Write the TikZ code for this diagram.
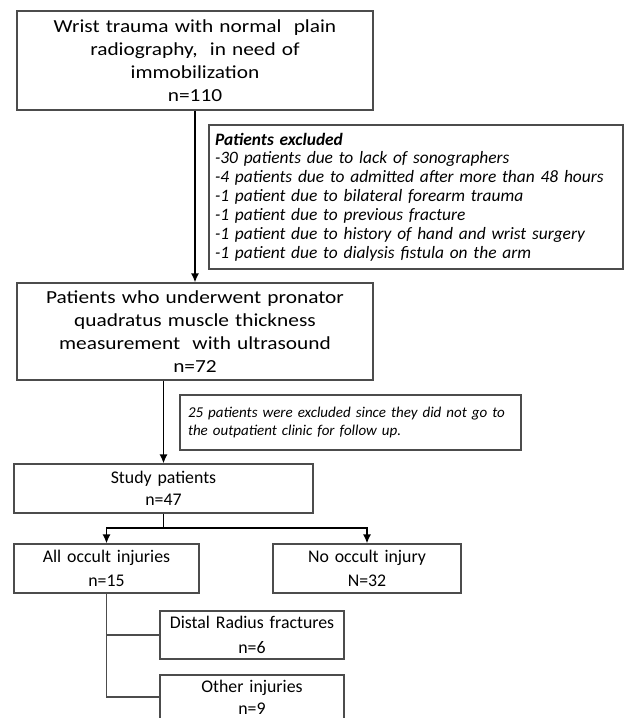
\documentclass[tikz,border=0pt]{standalone}
\usepackage{fontspec}
\setmainfont{Carlito}
\newfontfamily\widefont{Carlito}[FakeStretch=1.16]
\usetikzlibrary{arrows.meta,positioning,calc}
\tikzset{>=Stealth}

\begin{document}
\begin{tikzpicture}[x=1pt, y=-1pt,
    box/.style={draw=gray!60!black, line width=1.1pt, align=center, inner sep=0pt, font=\fontsize{17.8}{24.5}\selectfont},
    widebox/.style={box, font=\widefont\fontsize{18.4}{23}\selectfont},
    note/.style={draw=gray!60!black, line width=1.1pt, align=left, inner ysep=0pt},
    arr/.style={->, draw=black, line width=1.6pt, >={Latex[length=9pt,width=8pt]}},
    link/.style={draw=gray!60!black, line width=1.1pt}
  ]
    \useasboundingbox (0,0) rectangle (625,718);
    \node[widebox, text width=356pt, minimum height=99pt] (trauma) at (195,60.5)
      {Wrist trauma with normal\ \ plain\\radiography,\ \ in need of\\immobilization\\n=110};
    \node[note, inner xsep=6pt, text width=402pt, minimum height=144pt,
          font=\itshape\fontsize{17.4}{18.9}\selectfont] (excl) at (416,197)
      {{\bfseries Patients excluded}\\-30 patients due to lack of sonographers\\-4 patients due to admitted after more than 48 hours\\-1 patient due to bilateral forearm trauma\\-1 patient due to previous fracture\\-1 patient due to history of hand and wrist surgery\\-1 patient due to dialysis fistula on the arm};
    \node[widebox, text width=356pt, minimum height=97pt] (pqmeas) at (195,331.5)
      {Patients who underwent pronator\\quadratus muscle thickness\\measurement\ \ with ultrasound\\n=72};
    \node[note, inner xsep=8pt, text width=325pt, minimum height=55pt,
          font=\itshape\fontsize{15}{18.5}\selectfont] (lost) at (350.5,422.5)
      {25 patients were excluded since they did not go to\\the outpatient clinic for follow up.};
    \node[box, text width=299pt, minimum height=49pt, font=\fontsize{17.8}{22.5}\selectfont] (study) at (163.5,488.5) {Study patients\\n=47};
    \node[box, text width=185pt, minimum height=49pt] (occult) at (106.5,568.5) {All occult injuries\\n=15};
    \node[box, text width=188pt, minimum height=49pt] (noocc) at (367,568.5) {No occult injury\\N=32};
    \node[box, text width=184pt, minimum height=48pt] (distal) at (252,635) {Distal Radius fractures\\n=6};
    \node[box, text width=184pt, minimum height=44pt, font=\fontsize{17.8}{22}\selectfont] (other) at (252,697) {Other injuries\\n=9};
    \coordinate (fork) at (163.5,528);
    \draw[arr] (trauma) -- (pqmeas);
    \draw[arr] (pqmeas.south -| study.north) -- (study);
    \draw[line width=1.6pt] (study) -- (fork);
    \draw[arr] (fork) -| (occult);
    \draw[arr] (fork) -| (noocc);
    \draw[link] (occult.south) |- (distal.west);
    \draw[link] (occult.south) |- (other.west);
  \end{tikzpicture}
\end{document}
